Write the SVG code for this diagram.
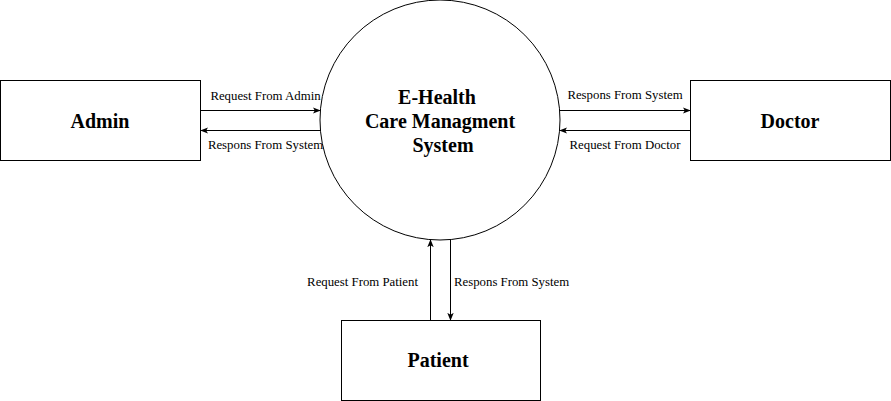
<svg xmlns="http://www.w3.org/2000/svg" width="891" height="401" viewBox="0 0 891 401">
<style>
.box{fill:#fff;stroke:#000;stroke-width:1}
.node{font-family:"Liberation Serif",serif;font-weight:bold;font-size:20px;text-anchor:middle;fill:#000}
.lbl{font-family:"Liberation Serif",serif;font-size:12.8px;fill:#000}
.edge{stroke:#000;stroke-width:1;fill:none;marker-end:url(#arr)}
</style>
<defs>
<marker id="arr" viewBox="0 0 10 10" refX="9" refY="5" markerWidth="8" markerHeight="8" markerUnits="userSpaceOnUse" orient="auto">
<path d="M0,1 L10,5 L0,9 L2.5,5 Z" fill="#000"/>
</marker>
</defs>
<rect width="891" height="401" fill="#fff"/>
<g id="system">
<circle class="box" cx="440" cy="120" r="120"/>
<text class="node" x="437" y="104">E-Health</text>
<text class="node" x="440" y="128">Care Managment</text>
<text class="node" x="443" y="152">System</text>
</g>
<g id="admin">
<rect class="box" x="0.5" y="80.5" width="200" height="80"/>
<text class="node" x="100" y="128">Admin</text>
</g>
<g id="doctor">
<rect class="box" x="690.5" y="80.5" width="200" height="80"/>
<text class="node" x="790" y="128">Doctor</text>
</g>
<g id="patient">
<rect class="box" x="341.5" y="320.5" width="199" height="80"/>
<text class="node" x="438" y="367">Patient</text>
</g>
<g id="connectors">
<line class="edge" x1="200" y1="110.5" x2="320" y2="110.5"/>
<line class="edge" x1="321" y1="130.5" x2="201" y2="130.5"/>
<line class="edge" x1="560" y1="110.5" x2="690" y2="110.5"/>
<line class="edge" x1="690" y1="130.5" x2="560" y2="130.5"/>
<line class="edge" x1="430.5" y1="320" x2="430.5" y2="240"/>
<line class="edge" x1="450.5" y1="240" x2="450.5" y2="320"/>
<text class="lbl" x="265.5" y="100" text-anchor="middle">Request From Admin</text>
<text class="lbl" x="265.5" y="149" text-anchor="middle">Respons From System</text>
<text class="lbl" x="625" y="99" text-anchor="middle">Respons From System</text>
<text class="lbl" x="625" y="149" text-anchor="middle">Request From Doctor</text>
<text class="lbl" x="418" y="286" text-anchor="end">Request From Patient</text>
<text class="lbl" x="454" y="286">Respons From System</text>
</g>
</svg>
